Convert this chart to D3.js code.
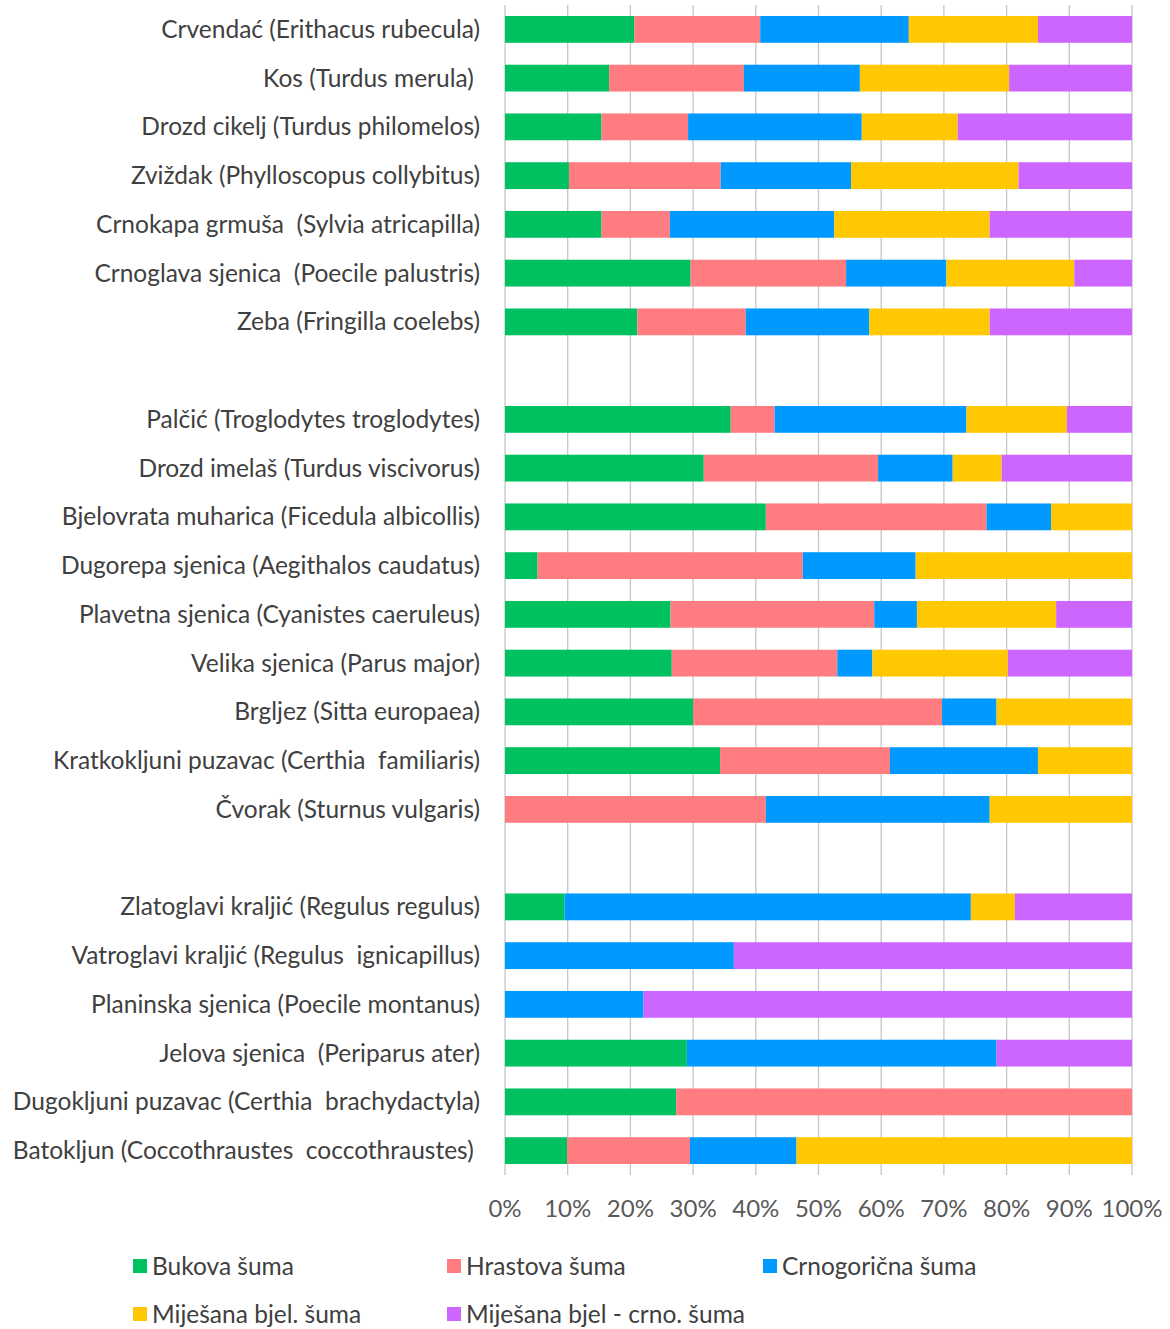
<!DOCTYPE html>
<html>
<head>
<meta charset="utf-8">
<script src="https://cdn.jsdelivr.net/npm/d3@7"></script>
<style>
  body { margin: 0; background: #fff; }
  text { font-family: Lato, "Noto Sans", sans-serif; }
</style>
</head>
<body>
<div id="chart"></div>
<script>
var w = 1170;
var h = 1329;

var margin = {
  top: 5,
  bottom: 154,
  left: 505,
  right: 38
}

var width = w - margin.left - margin.right;
var height = h - margin.top - margin.bottom;

// species, top to bottom (three groups)
var species = [
  "Crvendać (Erithacus rubecula)",
  "Kos (Turdus merula)\u00a0",
  "Drozd cikelj (Turdus philomelos)",
  "Zviždak (Phylloscopus collybitus)",
  "Crnokapa grmuša  (Sylvia atricapilla)",
  "Crnoglava sjenica  (Poecile palustris)",
  "Zeba (Fringilla coelebs)",
  "Palčić (Troglodytes troglodytes)",
  "Drozd imelaš (Turdus viscivorus)",
  "Bjelovrata muharica (Ficedula albicollis)",
  "Dugorepa sjenica (Aegithalos caudatus)",
  "Plavetna sjenica (Cyanistes caeruleus)",
  "Velika sjenica (Parus major)",
  "Brgljez (Sitta europaea)",
  "Kratkokljuni puzavac (Certhia  familiaris)",
  "Čvorak (Sturnus vulgaris)",
  "Zlatoglavi kraljić (Regulus regulus)",
  "Vatroglavi kraljić (Regulus  ignicapillus)",
  "Planinska sjenica (Poecile montanus)",
  "Jelova sjenica  (Periparus ater)",
  "Dugokljuni puzavac (Certhia  brachydactyla)",
  "Batokljun (Coccothraustes  coccothraustes)\u00a0"
];
var group = [1, 1, 1, 1, 1, 1, 1, 2, 2, 2, 2, 2, 2, 2, 2, 2, 3, 3, 3, 3, 3, 3];

var seriesNames = ["Bukova šuma", "Hrastova šuma", "Crnogorična šuma", "Miješana bjel. šuma", "Miješana bjel - crno. šuma"];
var seriesColors = ["#00c160", "#ff7c80", "#0099ff", "#ffc800", "#cc66ff"];

// percentages
var bukova = [20.6, 16.6, 15.4, 10.2, 15.4, 29.6, 21.1, 36.0, 31.7, 41.6, 5.2, 26.4, 26.6, 30.0, 34.3, 0, 9.5, 0, 0, 29.0, 27.3, 9.9];
var hrastova = [20.1, 21.5, 13.8, 24.2, 10.9, 24.8, 17.3, 7.0, 27.8, 35.2, 42.3, 32.5, 26.4, 39.7, 27.1, 41.6, 0, 0, 0, 0, 72.7, 19.6];
var crnogoricna = [23.7, 18.5, 27.7, 20.8, 26.2, 16.0, 19.7, 30.6, 11.9, 10.3, 18.0, 6.8, 5.6, 8.7, 23.6, 35.7, 64.8, 36.5, 22.1, 49.4, 0, 17.0];
var mijesanaBjel = [20.6, 23.8, 15.3, 26.7, 24.8, 20.4, 19.2, 16.0, 7.8, 12.9, 34.5, 22.2, 21.6, 21.6, 15.0, 22.7, 7.0, 0, 0, 0, 0, 53.5];
var mijesanaCrno = [15.0, 19.6, 27.8, 18.1, 22.7, 9.2, 22.7, 10.4, 20.8, 0, 0, 12.1, 19.8, 0, 0, 0, 18.7, 63.5, 77.9, 21.6, 0, 0];

var ticks = [0, 10, 20, 30, 40, 50, 60, 70, 80, 90, 100];

var data = species.map(function (s, i) {
  return {
    name: s,
    group: group[i],
    s0: bukova[i],
    s1: hrastova[i],
    s2: crnogoricna[i],
    s3: mijesanaBjel[i],
    s4: mijesanaCrno[i]
  };
});

// row order with an empty row between groups
var rows = [];
data.forEach(function (d, i) {
  if (i > 0 && d.group != data[i - 1].group) rows.push("gap" + d.group);
  rows.push(d.name);
});

var keys = ["s0", "s1", "s2", "s3", "s4"];
var stacked = d3.stack().keys(keys)(data);

var x = d3.scaleLinear().domain([0, 100]).range([0, width]);
var y = d3.scaleBand().domain(rows).range([0, height]).paddingInner(0.45).paddingOuter(0.225);

var svg = d3.select("#chart").append("svg")
  .attr("width", w)
  .attr("height", h);

var chart = svg.append("g").attr("transform", "translate(" + margin.left + "," + margin.top + ")");

// gridlines
chart.append("g")
  .selectAll("line")
  .data(ticks)
  .join("line")
  .attr("x1", function (d) { return x(d); })
  .attr("x2", function (d) { return x(d); })
  .attr("y1", 0)
  .attr("y2", height)
  .style("stroke", "#c6c6c6")
  .style("stroke-width", 1.3);

chart.append("g")
  .selectAll("g")
  .data(stacked)
  .join("g")
  .style("fill", function (d, i) { return seriesColors[i]; })
  .selectAll("rect")
  .data(function (d) { return d; })
  .join("rect")
  .attr("x", function (d) { return x(d[0]); })
  .attr("width", function (d) { return x(d[1]) - x(d[0]); })
  .attr("y", function (d) { return y(d.data.name); })
  .attr("height", y.bandwidth());

// category labels
chart.append("g")
  .selectAll("text")
  .data(data)
  .join("text")
  .attr("x", -25)
  .attr("y", function (d) { return y(d.name) + y.bandwidth() / 2; })
  .attr("dy", "0.35em")
  .style("text-anchor", "end")
  .style("white-space", "pre")
  .style("font-size", "24.5px")
  .style("fill", "#404040")
  .text(function (d) { return d.name; });

// x tick labels
chart.append("g")
  .selectAll("text")
  .data(ticks)
  .join("text")
  .attr("x", function (d) { return x(d); })
  .attr("y", height + 42)
  .style("text-anchor", "middle")
  .style("font-size", "24px")
  .style("fill", "#595959")
  .text(function (d) { return d + "%"; });

// legend
var legendX = [133, 447, 763, 133, 447];
var legendY = [1266, 1266, 1266, 1314, 1314];

var legend = svg.append("g")
  .selectAll("g")
  .data(seriesNames)
  .join("g")
  .attr("transform", function (d, i) { return "translate(" + legendX[i] + "," + legendY[i] + ")"; });

legend.append("rect")
  .attr("x", 0)
  .attr("y", -7)
  .attr("width", 14)
  .attr("height", 14)
  .style("fill", function (d, i) { return seriesColors[i]; });

legend.append("text")
  .attr("x", 19)
  .attr("dy", "0.35em")
  .style("font-size", "24.5px")
  .style("fill", "#404040")
  .text(function (d) { return d; });
</script>
</body>
</html>
